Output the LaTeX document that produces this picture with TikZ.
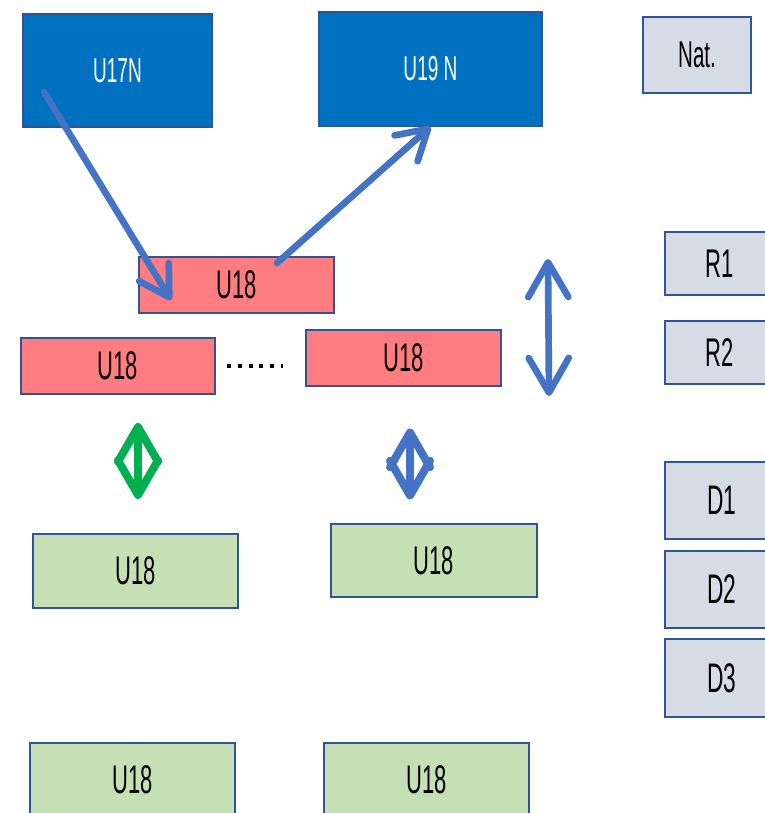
\documentclass[tikz,border=0pt]{standalone}
\usepackage{fontspec}
\setmainfont{Liberation Sans}[FakeStretch=0.55]
\usepackage{tikz}
\usetikzlibrary{arrows.meta,positioning,calc}
\definecolor{boxline}{HTML}{2F5597}
\definecolor{unitblue}{HTML}{0070C0}
\definecolor{unitred}{HTML}{FF7C80}
\definecolor{unitgreen}{HTML}{C5E0B4}
\definecolor{unitgray}{HTML}{D6DCE5}
\definecolor{arrblue}{HTML}{4472C4}
\definecolor{arrgreen}{HTML}{00B050}

\begin{document}
\begin{tikzpicture}[
    x=0.75pt, y=-0.75pt,
    unit/.style={draw=boxline, line width=1.5pt, inner sep=0pt, align=center},
    topunit/.style={unit, fill=unitblue, text=white, font=\fontsize{26}{28}\selectfont},
    redunit/.style={unit, fill=unitred, minimum width=146pt, minimum height=42pt, font=\fontsize{30}{32}\selectfont},
    greenunit/.style={unit, fill=unitgreen, minimum width=154pt, minimum height=55pt, font=\fontsize{30}{32}\selectfont},
    tag/.style={unit, fill=unitgray, font=\fontsize{30}{32}\selectfont},
    arrow/.style={line width=5pt, draw=arrblue, line cap=round, -{Straight Barb[length=22pt, width=26pt, line cap=round, line join=round]}},
    swap/.style={line width=5pt, line cap=round, {Straight Barb[length=26pt, width=30pt, line cap=round, line join=round]}-{Straight Barb[length=26pt, width=30pt, line cap=round, line join=round]}},
    dots/.style={line width=3pt, dash pattern=on 3pt off 5pt}
]
    \useasboundingbox (0,0) rectangle (764,813);

    % Neighbour units
    \node[topunit, minimum width=142pt, minimum height=85pt] (u17n) at (117.5,70.5) {U17N};
    \node[topunit, minimum width=167pt, minimum height=85pt] (u19n) at (430.5,69) {U19 N};

    % Legend
    \node[tag, minimum width=81pt, minimum height=57pt, font=\fontsize{28}{30}\selectfont] (nat) at (697,55) {Nat.};
    \node[tag, minimum width=83pt, minimum height=47pt] (r1) at (720,263.5) {R1};
    \node[tag, minimum width=83pt, minimum height=47pt] (r2) at (720,352.5) {R2};
    \node[tag, minimum width=86pt, minimum height=58pt, font=\fontsize{31}{33}\selectfont] (d1) at (722,500.5) {D1};
    \node[tag, minimum width=86pt, minimum height=58pt, font=\fontsize{31}{33}\selectfont] (d2) at (722,589.5) {D2};
    \node[tag, minimum width=86pt, minimum height=58pt, font=\fontsize{31}{33}\selectfont] (d3) at (722,678) {D3};

    % U18 (red)
    \node[redunit] (redT) at (236.5,285) {U18};
    \node[redunit] (redL) at (118,366) {U18};
    \node[redunit] (redR) at (403.5,357.5) {U18};
    \draw[dots] ($(redL.east)+(11,0)$) -- ($(redL.east)+(67,0)$);

    % U18 (green)
    \node[greenunit] (g1) at (135.5,571) {U18};
    \node[greenunit] (g2) at (434,560.5) {U18};
    \node[greenunit] (g3) at (132.5,780) {U18};
    \node[greenunit] (g4) at (426.5,780) {U18};

    % Flow
    \draw[arrow] ($(u17n.center)+(-73.5,21.5)$) -- ($(redT.center)+(-65.5,15)$);
    \draw[arrow] ($(redT.center)+(40.5,-22)$) -- (u19n.south);

    % Exchanges
    \draw[swap, line width=6pt, draw=arrgreen] ($(redL.south)+(20,28)$) -- ($(redL.south)+(20,104)$);
    \draw[swap, line width=6pt, draw=arrblue] ($(redR.south)+(6.5,42)$) -- ($(redR.south)+(6.5,113)$);
    \coordinate (vtop) at (548,259);
    \coordinate (vbot) at (549,396);
    \draw[swap, draw=arrblue] (vtop) -- (vbot);

\end{tikzpicture}
\end{document}
